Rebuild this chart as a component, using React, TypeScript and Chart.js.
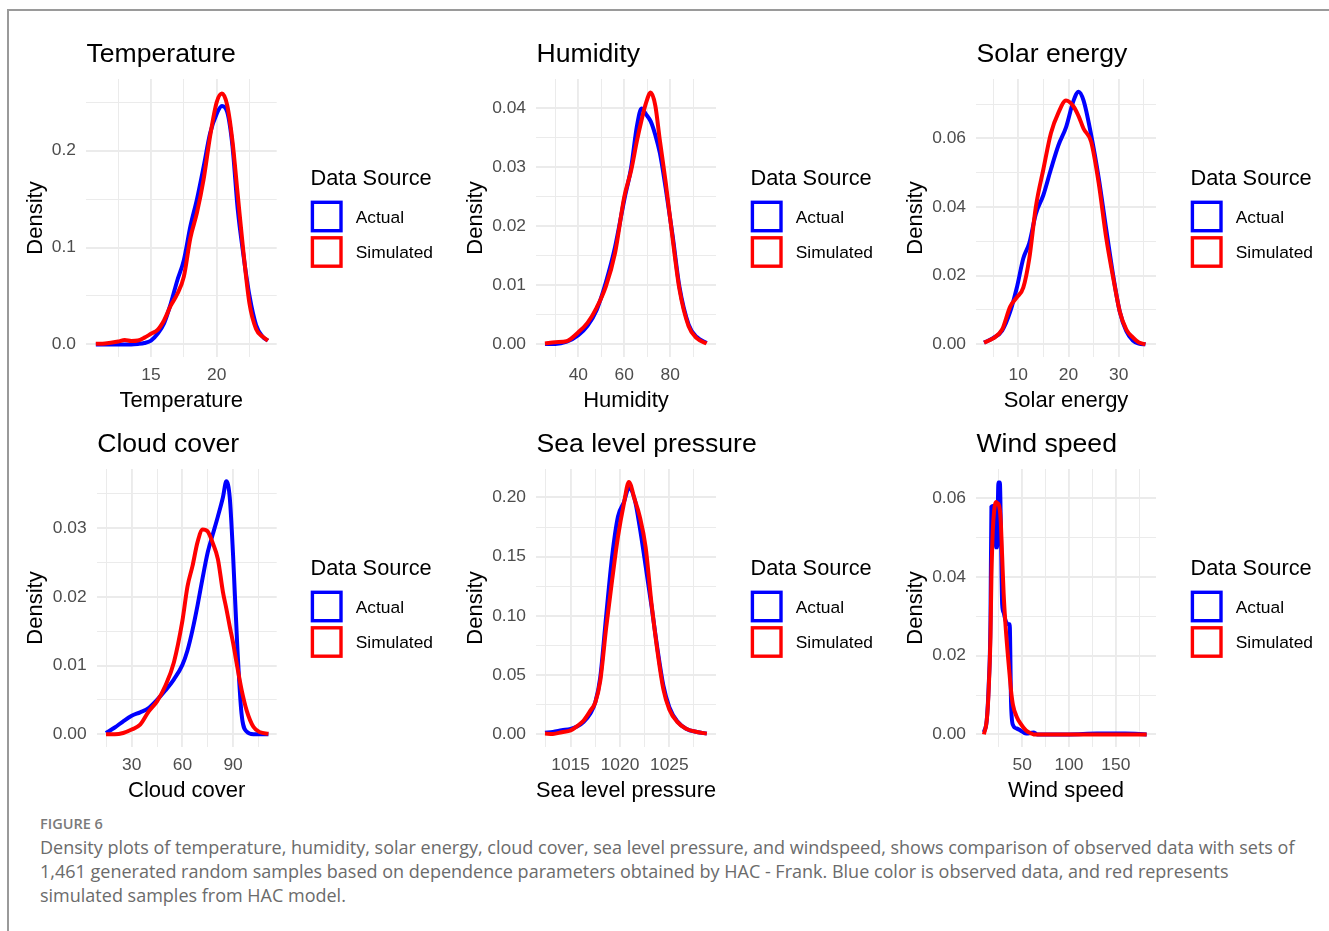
import React, { useEffect, useRef } from "react";
import { Chart, registerables } from "chart.js";

Chart.register(...registerables);

const FONT = "'Liberation Sans', Arial, Helvetica, sans-serif";

// ---------------- Data ----------------
const seriesNames = ["Actual", "Simulated"];
const legendTitle = "Data Source";
const yAxisTitle = "Density";

// Temperature
const tempX = [10.8, 11.5, 12.5, 13, 13.5, 14, 14.5, 15, 15.5, 16, 16.5, 17, 17.5, 18, 18.5, 19, 19.5, 20, 20.4, 20.8, 21.2, 21.6, 22, 22.5, 23, 23.5, 23.9];
const tempActual = [0, 0, 0, 0, 0, 0.0005, 0.0015, 0.004, 0.011, 0.022, 0.042, 0.066, 0.087, 0.122, 0.15, 0.183, 0.218, 0.238, 0.246, 0.24, 0.205, 0.14, 0.096, 0.05, 0.02, 0.008, 0.004];
const tempSimulated = [0.0007, 0.001, 0.003, 0.0045, 0.0035, 0.004, 0.007, 0.011, 0.015, 0.025, 0.04, 0.052, 0.07, 0.11, 0.136, 0.17, 0.215, 0.25, 0.259, 0.247, 0.21, 0.155, 0.1, 0.042, 0.016, 0.008, 0.004];
const tempXTicks = [15, 20];
const tempXMinor = [12.5, 17.5, 22.5];
const tempYTicks = [0, 0.1, 0.2];
const tempYMinor = [0.05, 0.15, 0.25];

// Humidity
const humX = [25.5, 30, 35, 40, 44, 48, 52, 56, 60, 63, 65.5, 67.5, 69.5, 71.5, 73.5, 75.5, 78, 81, 84, 88, 91.5, 95.8];
const humActual = [0, 0, 0.0004, 0.0015, 0.0031, 0.0058, 0.0105, 0.0165, 0.0245, 0.03, 0.037, 0.04, 0.039, 0.0378, 0.0355, 0.0324, 0.0265, 0.0185, 0.0097, 0.0033, 0.0012, 0.0002];
const humSimulated = [0.0001, 0.0003, 0.0005, 0.002, 0.0036, 0.0062, 0.0098, 0.0155, 0.025, 0.0295, 0.0345, 0.038, 0.041, 0.0427, 0.0405, 0.0345, 0.0275, 0.018, 0.0093, 0.003, 0.001, 0.0001];
const humXTicks = [40, 60, 80];
const humXMinor = [30, 50, 70, 90];
const humYTicks = [0, 0.01, 0.02, 0.03, 0.04];
const humYMinor = [0.005, 0.015, 0.025, 0.035];

// Solar energy
const solX = [3.2, 5, 6.8, 8.4, 9.8, 11, 12.2, 13.5, 15, 16.5, 18, 19.5, 21, 22, 23, 24.5, 26, 27.5, 29, 30.2, 31.5, 32.8, 34, 35.3];
const solActual = [0.0005, 0.0018, 0.004, 0.0095, 0.017, 0.025, 0.0295, 0.038, 0.0435, 0.051, 0.058, 0.0632, 0.071, 0.0736, 0.071, 0.061, 0.0485, 0.0335, 0.019, 0.0095, 0.0038, 0.0011, 0.0002, 0];
const solSimulated = [0.0005, 0.0017, 0.0043, 0.011, 0.0138, 0.0165, 0.025, 0.04, 0.051, 0.0615, 0.0675, 0.071, 0.0693, 0.0665, 0.0628, 0.059, 0.047, 0.031, 0.0185, 0.0095, 0.0043, 0.002, 0.0005, 0];
const solXTicks = [10, 20, 30];
const solXMinor = [5, 15, 25, 35];
const solYTicks = [0, 0.02, 0.04, 0.06];
const solYMinor = [0.01, 0.03, 0.05, 0.07];

// Cloud cover
const cloudX = [14.8, 20, 25, 30, 35, 40, 45, 50, 55, 60, 63, 66, 69, 72, 75, 78, 81, 84, 86, 88, 90, 92.5, 95, 98, 102, 106, 110.9];
const cloudActual = [0.0002, 0.001, 0.0019, 0.0027, 0.0032, 0.0038, 0.005, 0.0064, 0.008, 0.0101, 0.0122, 0.0152, 0.0188, 0.0228, 0.0265, 0.0291, 0.0317, 0.0345, 0.0368, 0.0345, 0.026, 0.0127, 0.003, 0.0004, 0, 0, 0];
const cloudSimulated = [0, 0, 0.0002, 0.0007, 0.0014, 0.0033, 0.0048, 0.0071, 0.0105, 0.0165, 0.0215, 0.0245, 0.028, 0.0298, 0.0295, 0.0278, 0.0255, 0.0207, 0.0183, 0.0157, 0.0133, 0.0098, 0.0065, 0.0035, 0.0011, 0.0003, 0.0001];
const cloudXTicks = [30, 60, 90];
const cloudXMinor = [15, 45, 75, 105];
const cloudYTicks = [0, 0.01, 0.02, 0.03];
const cloudYMinor = [0.005, 0.015, 0.025, 0.035];

// Sea level pressure
const seaX = [1012.4, 1013.2, 1014.1, 1015, 1015.7, 1016.3, 1017, 1017.5, 1018, 1018.6, 1019.2, 1019.8, 1020.4, 1020.9, 1021.5, 1022, 1022.6, 1023.2, 1023.8, 1024.4, 1025, 1025.8, 1026.7, 1027.8, 1028.8];
const seaActual = [0.0014, 0.002, 0.0034, 0.0046, 0.0068, 0.0104, 0.0175, 0.027, 0.048, 0.1, 0.15, 0.184, 0.196, 0.208, 0.198, 0.175, 0.142, 0.108, 0.072, 0.041, 0.023, 0.011, 0.0048, 0.002, 0.0006];
const seaSimulated = [0.0006, 0.0003, 0.0018, 0.0033, 0.0072, 0.0115, 0.02, 0.027, 0.045, 0.09, 0.13, 0.167, 0.195, 0.213, 0.198, 0.184, 0.158, 0.11, 0.07, 0.038, 0.021, 0.0105, 0.0048, 0.002, 0.0006];
const seaXTicks = [1015, 1020, 1025];
const seaXMinor = [1012.5, 1017.5, 1022.5, 1027.5];
const seaYTicks = [0, 0.05, 0.1, 0.15, 0.2];
const seaYMinor = [0.025, 0.075, 0.125, 0.175];

// Wind speed
const windX = [9, 12, 14, 16, 17, 18.5, 20, 21, 22, 23, 24.5, 26, 27, 28.5, 30, 32, 35, 36.5, 38, 40, 44, 48, 54, 60, 62, 66, 80, 100, 130, 160, 183];
const windActual = [0.0006, 0.0036, 0.012, 0.029, 0.0578, 0.058, 0.058, 0.0575, 0.0475, 0.0475, 0.064, 0.064, 0.054, 0.033, 0.031, 0.029, 0.028, 0.028, 0.008, 0.0024, 0.0015, 0.001, 0.0002, 0.0004, 0.0005, 0, 0, 0, 0.0002, 0.0002, 0];
const windSimulated = [0, 0.0036, 0.011, 0.025, 0.04, 0.052, 0.057, 0.0585, 0.059, 0.0588, 0.0585, 0.057, 0.054, 0.045, 0.036, 0.028, 0.019, 0.015, 0.011, 0.0075, 0.0045, 0.0028, 0.001, 0.0002, 0, 0, 0, 0, 0, 0, 0];
const windXTicks = [50, 100, 150];
const windXMinor = [25, 75, 125, 175];
const windYTicks = [0, 0.02, 0.04, 0.06];
const windYMinor = [0.01, 0.03, 0.05];

// ---------------- Panel setup ----------------
type Panel = {
  title: string;
  x: number[];
  actual: number[];
  simulated: number[];
  xLim: [number, number];
  yLim: [number, number];
  xTicks: number[];
  xMinor: number[];
  yTicks: number[];
  yMinor: number[];
  xDec: number;
  yDec: number;
  left: number;
  top: number;
  width: number;
  plotLeft: number;
  plotRight: number;
};

const ROW1 = 30;
const ROW2 = 420;
const H = 390;

const panels: Panel[] = [
  { title: "Temperature", x: tempX, actual: tempActual, simulated: tempSimulated, xLim: [10.05, 24.57], yLim: [-0.013, 0.274], xTicks: tempXTicks, xMinor: tempXMinor, yTicks: tempYTicks, yMinor: tempYMinor, xDec: 0, yDec: 1, left: 0, top: ROW1, width: 440, plotLeft: 86, plotRight: 276.7 },
  { title: "Humidity", x: humX, actual: humActual, simulated: humSimulated, xLim: [21.6, 99.9], yLim: [-0.0022, 0.045], xTicks: humXTicks, xMinor: humXMinor, yTicks: humYTicks, yMinor: humYMinor, xDec: 0, yDec: 2, left: 440, top: ROW1, width: 440, plotLeft: 96, plotRight: 276 },
  { title: "Solar energy", x: solX, actual: solActual, simulated: solSimulated, xLim: [1.6, 37.4], yLim: [-0.0037, 0.0773], xTicks: solXTicks, xMinor: solXMinor, yTicks: solYTicks, yMinor: solYMinor, xDec: 0, yDec: 2, left: 880, top: ROW1, width: 449, plotLeft: 96, plotRight: 276 },
  { title: "Cloud cover", x: cloudX, actual: cloudActual, simulated: cloudSimulated, xLim: [9.3, 115.8], yLim: [-0.00184, 0.0386], xTicks: cloudXTicks, xMinor: cloudXMinor, yTicks: cloudYTicks, yMinor: cloudYMinor, xDec: 0, yDec: 2, left: 0, top: ROW2, width: 440, plotLeft: 96.7, plotRight: 276.7 },
  { title: "Sea level pressure", x: seaX, actual: seaActual, simulated: seaSimulated, xLim: [1011.49, 1029.73], yLim: [-0.0107, 0.224], xTicks: seaXTicks, xMinor: seaXMinor, yTicks: seaYTicks, yMinor: seaYMinor, xDec: 0, yDec: 2, left: 440, top: ROW2, width: 440, plotLeft: 96, plotRight: 276 },
  { title: "Wind speed", x: windX, actual: windActual, simulated: windSimulated, xLim: [0.5, 193], yLim: [-0.0032, 0.0674], xTicks: windXTicks, xMinor: windXMinor, yTicks: windYTicks, yMinor: windYMinor, xDec: 0, yDec: 2, left: 880, top: ROW2, width: 449, plotLeft: 96, plotRight: 276 },
];

const COLORS = ["#0000FF", "#FF0000"];
const GRID = "#EBEBEB";
const TICK_COLOR = "#4D4D4D";

const near = (a: number, list: number[]) => list.some((v) => Math.abs(v - a) < 1e-9);

function makeDecorPlugin(title: string) {
  return {
    id: "ggDecor",
    afterDraw(chart: any) {
      const { ctx, chartArea } = chart;
      ctx.save();
      ctx.textAlign = "left";
      ctx.textBaseline = "middle";
      ctx.fillStyle = "#000000";
      // panel title, aligned to the panel's left edge (like ggplot)
      ctx.font = `26.6px ${FONT}`;
      ctx.fillText(title, chartArea.left + 0.5, chartArea.top - 24.2);
      // legend
      const cy = (chartArea.top + chartArea.bottom) / 2;
      ctx.font = `21.8px ${FONT}`;
      ctx.fillText(legendTitle, 310.5, cy - 39.5);
      chart.data.datasets.forEach((ds: any, i: number) => {
        const bc = cy - 1.5 + i * 35.5;
        ctx.lineWidth = 3.4;
        ctx.strokeStyle = ds.borderColor;
        ctx.strokeRect(312.4, bc - 14.2, 28.6, 28.4);
        ctx.font = `17.4px ${FONT}`;
        ctx.fillStyle = "#000000";
        ctx.fillText(ds.label, 355.7, bc + 1.5);
      });
      ctx.restore();
    },
  };
}

function PanelChart({ p }: { p: Panel }) {
  const ref = useRef<HTMLCanvasElement>(null);
  useEffect(() => {
    if (!ref.current) return;
    const allX = [...p.xMinor, ...p.xTicks].sort((a, b) => a - b);
    const allY = [...p.yMinor, ...p.yTicks].sort((a, b) => a - b);
    const chart = new Chart(ref.current, {
      type: "line",
      data: {
        datasets: [
          {
            label: seriesNames[0],
            data: p.x.map((x, i) => ({ x, y: p.actual[i] })),
            borderColor: COLORS[0],
            backgroundColor: COLORS[0],
            borderWidth: 4,
            pointRadius: 0,
            cubicInterpolationMode: "monotone",
            fill: false,
            order: 2,
          },
          {
            label: seriesNames[1],
            data: p.x.map((x, i) => ({ x, y: p.simulated[i] })),
            borderColor: COLORS[1],
            backgroundColor: COLORS[1],
            borderWidth: 4,
            pointRadius: 0,
            cubicInterpolationMode: "monotone",
            fill: false,
            order: 1,
          },
        ],
      },
      options: {
        responsive: false,
        animation: false,
        devicePixelRatio: 1,
        events: [],
        layout: { padding: { left: 0, right: p.width - p.plotRight, top: 49, bottom: 5.9 } },
        plugins: {
          legend: { display: false },
          tooltip: { enabled: false },
          title: { display: false },
        },
        scales: {
          x: {
            type: "linear",
            min: p.xLim[0],
            max: p.xLim[1],
            bounds: "data",
            afterBuildTicks: (axis: any) => {
              axis.ticks = allX.map((v) => ({ value: v }));
            },
            afterFit: (axis: any) => {
              axis.height = 57.1;
            },
            ticks: {
              autoSkip: false,
              maxRotation: 0,
              padding: 7.6,
              color: TICK_COLOR,
              font: { size: 17.4, family: FONT },
              callback: (v: any) => (near(Number(v), p.xTicks) ? Number(v).toFixed(p.xDec) : ""),
            },
            grid: {
              color: GRID,
              drawTicks: false,
              lineWidth: (c: any) => (c.tick && near(c.tick.value, p.xTicks) ? 1.9 : 1),
            },
            border: { display: false },
            title: {
              display: true,
              text: p.title,
              color: "#000000",
              font: { size: 22, family: FONT },
              padding: { top: 0, bottom: 0 },
            },
          },
          y: {
            type: "linear",
            min: p.yLim[0],
            max: p.yLim[1],
            bounds: "data",
            afterBuildTicks: (axis: any) => {
              axis.ticks = allY.map((v) => ({ value: v }));
            },
            afterFit: (axis: any) => {
              axis.width = p.plotLeft;
            },
            ticks: {
              autoSkip: false,
              padding: 10,
              color: TICK_COLOR,
              font: { size: 17.4, family: FONT },
              callback: (v: any) => (near(Number(v), p.yTicks) ? Number(v).toFixed(p.yDec) : ""),
            },
            grid: {
              color: GRID,
              drawTicks: false,
              lineWidth: (c: any) => (c.tick && near(c.tick.value, p.yTicks) ? 1.9 : 1),
            },
            border: { display: false },
            title: {
              display: true,
              text: yAxisTitle,
              color: "#000000",
              font: { size: 22, family: FONT },
              padding: { top: 22.3, bottom: 0 },
            },
          },
        },
      } as any,
      plugins: [makeDecorPlugin(p.title)],
    });
    return () => chart.destroy();
  }, [p]);
  return (
    <canvas
      ref={ref}
      width={p.width}
      height={H}
      style={{ position: "absolute", left: p.left, top: p.top, width: p.width, height: H }}
    />
  );
}

const captionLabel = "FIGURE 6";
const captionLines = [
  "Density plots of temperature, humidity, solar energy, cloud cover, sea level pressure, and windspeed, shows comparison of observed data with sets of",
  "1,461 generated random samples based on dependence parameters obtained by HAC - Frank. Blue color is observed data, and red represents",
  "simulated samples from HAC model.",
];

export default function App() {
  return (
    <div style={{ position: "absolute", left: 0, top: 0, width: 1329, height: 931, background: "#ffffff", overflow: "hidden" }}>
      <div
        style={{
          position: "absolute",
          left: 7,
          top: 9,
          width: 1340,
          height: 940,
          borderTop: "2px solid #9a9a9a",
          borderLeft: "2px solid #9a9a9a",
        }}
      />
      {panels.map((p) => (
        <PanelChart key={p.title} p={p} />
      ))}
      <div
        style={{
          position: "absolute",
          left: 40,
          top: 815,
          fontFamily: "'Open Sans', sans-serif",
          fontWeight: 600,
          fontSize: 14.5,
          color: "#7a7a7a",
          lineHeight: "18px",
          whiteSpace: "nowrap",
        }}
      >
        {captionLabel}
      </div>
      <div
        style={{
          position: "absolute",
          left: 40,
          top: 835,
          fontFamily: "'Open Sans', sans-serif",
          fontSize: 18,
          color: "#6b6b6b",
          lineHeight: "24px",
          whiteSpace: "nowrap",
        }}
      >
        {captionLines.map((l, i) => (
          <div key={i}>{l}</div>
        ))}
      </div>
    </div>
  );
}
